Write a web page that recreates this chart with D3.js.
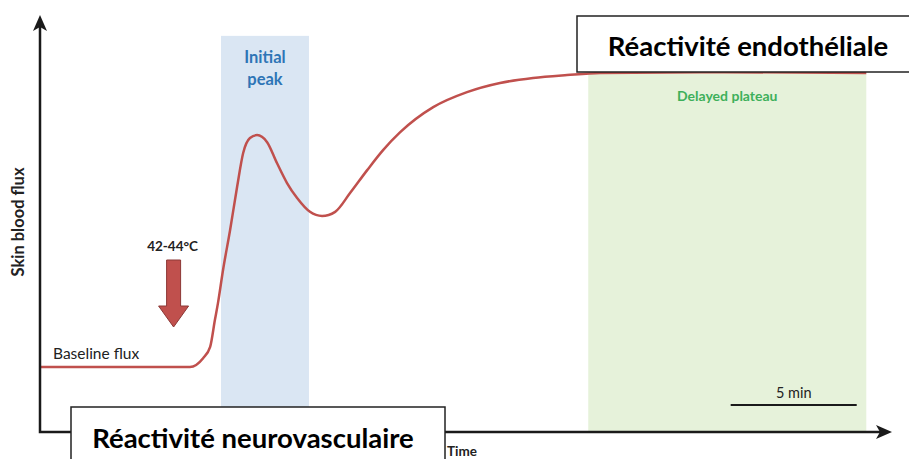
<!DOCTYPE html>
<html>
<head>
<meta charset="utf-8">
<script src="https://cdn.jsdelivr.net/npm/d3@7"></script>
<style>
  body { margin: 0; background: #fff; }
  text { font-family: Lato, "Open Sans", sans-serif; }
</style>
</head>
<body>
<div class="chart"></div>
<script>
// time in minutes, flux in arbitrary units
var times = [0, 4.37, 5.95, 6.47, 6.75, 6.94, 7.06, 7.26, 7.54, 7.82, 8.06, 8.33, 8.61, 9.01, 9.40, 9.80, 10.20, 10.71, 11.19, 11.71, 12.30, 12.98, 13.61, 14.29, 15.60, 16.94, 18.25, 19.56, 20.91, 22.22, 26.19, 32.78];
var flux =  [15.6, 15.6, 15.6, 17.7, 20.4, 26.9, 30.9, 38.8, 48.4, 58.8, 66.9, 70.5, 71.2, 69.5, 64.5, 59.7, 56.1, 52.8, 51.8, 52.8, 57.3, 62.8, 67.6, 71.9, 77.9, 81.5, 83.7, 84.9, 85.6, 86.1, 86.3, 86.1];

// phases
var phaseNames = ["Initial peak", "Delayed plateau"];
var phaseStart = [7.18, 21.75];
var phaseEnd = [10.67, 32.78];
var phaseTop = [95, 86.1];

var stimulusTime = 5.3;
var stimulusLabel = "42-44°C";
var scaleBarStart = 27.4;
var scaleBarMinutes = 5;

var width = 909;
var height = 459;

var x = d3.scaleLinear().domain([0, 33.8]).range([40, 892]);
var y = d3.scaleLinear().domain([0, 100]).range([432, 15]);

var svg = d3.select(".chart")
    .append("svg")
    .attr("width", width)
    .attr("height", height);

//////// phase bands
var bandFill = ["#dae6f3", "#e6f2da"];
var bandText = ["#2e75b6", "#3eb05a"];

svg.selectAll("rect.band")
    .data(phaseNames)
    .enter()
    .append("rect")
    .attr("class", "band")
    .attr("x", function(d, i) { return x(phaseStart[i]); })
    .attr("y", function(d, i) { return y(phaseTop[i]); })
    .attr("width", function(d, i) { return x(phaseEnd[i]) - x(phaseStart[i]); })
    .attr("height", function(d, i) { return y(0) - y(phaseTop[i]); })
    .attr("fill", function(d, i) { return bandFill[i]; });

// initial peak label (two lines)
var peakMid = (x(phaseStart[0]) + x(phaseEnd[0])) / 2;
var peakLabel = svg.append("text")
    .attr("x", peakMid)
    .attr("y", 63)
    .attr("text-anchor", "middle")
    .attr("font-size", "16.5px")
    .attr("font-weight", "bold")
    .attr("fill", bandText[0]);
peakLabel.append("tspan").attr("x", peakMid).text("Initial");
peakLabel.append("tspan").attr("x", peakMid).attr("dy", 22).text("peak");

svg.append("text")
    .attr("x", (x(phaseStart[1]) + x(phaseEnd[1])) / 2)
    .attr("y", 101)
    .attr("text-anchor", "middle")
    .attr("font-size", "14px")
    .attr("font-weight", "bold")
    .attr("fill", bandText[1])
    .text(phaseNames[1]);

//////// flux curve
var line = d3.line()
    .x(function(d) { return x(d[0]); })
    .y(function(d) { return y(d[1]); })
    .curve(d3.curveMonotoneX);

svg.append("path")
    .datum(d3.zip(times, flux))
    .attr("d", line)
    .attr("fill", "none")
    .attr("stroke", "#c0504d")
    .attr("stroke-width", 2.5);

//////// axes with arrowheads
var axisColor = "#1a1a1a";
svg.append("path")
    .attr("d", "M " + x(0) + " " + (y(100) + 10) + " L " + x(0) + " " + y(0) + " L " + (x(33.8) - 10) + " " + y(0))
    .attr("fill", "none")
    .attr("stroke", axisColor)
    .attr("stroke-width", 2.5);

svg.append("path")
    .attr("d", "M " + x(0) + " " + y(100) + " L " + (x(0) + 7) + " " + (y(100) + 16) + " L " + x(0) + " " + (y(100) + 12) + " L " + (x(0) - 7) + " " + (y(100) + 16) + " Z")
    .attr("fill", axisColor);

svg.append("path")
    .attr("d", "M " + x(33.8) + " " + y(0) + " L " + (x(33.8) - 16) + " " + (y(0) - 7) + " L " + (x(33.8) - 12) + " " + y(0) + " L " + (x(33.8) - 16) + " " + (y(0) + 7) + " Z")
    .attr("fill", axisColor);

svg.append("text")
    .attr("transform", "translate(24," + 222 + ") rotate(-90)")
    .attr("text-anchor", "middle")
    .attr("font-size", "16.5px")
    .attr("font-weight", "bold")
    .attr("fill", "#222")
    .text("Skin blood flux");

svg.append("text")
    .attr("x", 447)
    .attr("y", 456)
    .attr("font-size", "13.5px")
    .attr("font-weight", "bold")
    .attr("fill", "#222")
    .text("Time");

svg.append("text")
    .attr("x", 53)
    .attr("y", 359)
    .attr("font-size", "15.5px")
    .attr("fill", "#222")
    .text("Baseline flux");

//////// stimulus arrow
var ax = x(stimulusTime);
svg.append("path")
    .attr("d", "M " + (ax - 7) + " 260 L " + (ax + 7) + " 260 L " + (ax + 7) + " 306 L " + (ax + 15) + " 306 L " + ax + " 327 L " + (ax - 15) + " 306 L " + (ax - 7) + " 306 Z")
    .attr("fill", "#c0504d")
    .attr("stroke", "#8c3836")
    .attr("stroke-width", 1);

svg.append("text")
    .attr("x", ax - 1)
    .attr("y", 251)
    .attr("text-anchor", "middle")
    .attr("font-size", "13.5px")
    .attr("font-weight", "bold")
    .attr("fill", "#222")
    .text(stimulusLabel);

//////// scale bar
svg.append("line")
    .attr("x1", x(scaleBarStart))
    .attr("x2", x(scaleBarStart + scaleBarMinutes))
    .attr("y1", 405)
    .attr("y2", 405)
    .attr("stroke", axisColor)
    .attr("stroke-width", 2);

svg.append("text")
    .attr("x", (x(scaleBarStart) + x(scaleBarStart + scaleBarMinutes)) / 2)
    .attr("y", 398)
    .attr("text-anchor", "middle")
    .attr("font-size", "14.5px")
    .attr("fill", "#222")
    .text(scaleBarMinutes + " min");

//////// annotation boxes
var boxes = [
    { label: "Réactivité endothéliale", x: 577, y: 16, w: 340, h: 56, tx: 748, ty: 56 },
    { label: "Réactivité neurovasculaire", x: 71, y: 407, w: 374, h: 60, tx: 253, ty: 448 }
];

boxes.forEach(function(b) {
    svg.append("rect")
        .attr("x", b.x)
        .attr("y", b.y)
        .attr("width", b.w)
        .attr("height", b.h)
        .attr("fill", "#fff")
        .attr("stroke", "#222")
        .attr("stroke-width", 1.5);
    svg.append("text")
        .attr("x", b.tx)
        .attr("y", b.ty)
        .attr("text-anchor", "middle")
        .attr("font-size", "27.5px")
        .attr("font-weight", "bold")
        .attr("fill", "#000")
        .text(b.label);
});
</script>
</body>
</html>
